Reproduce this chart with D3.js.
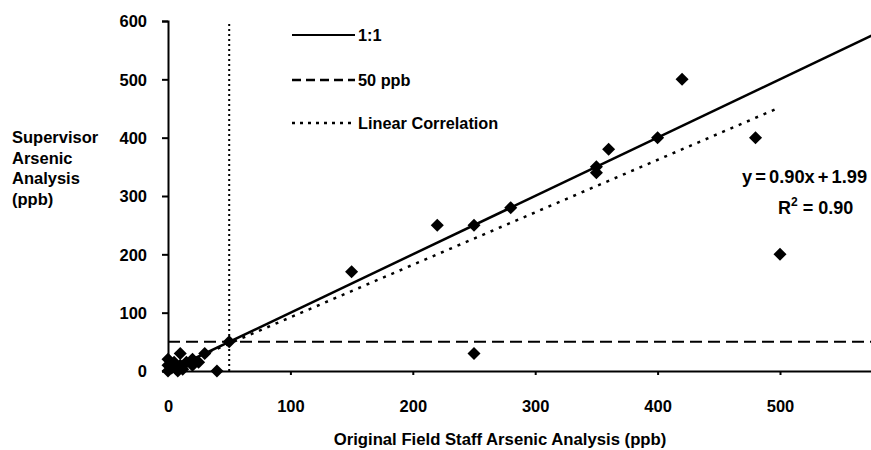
<!DOCTYPE html>
<html>
<head>
<script src="https://cdn.jsdelivr.net/npm/d3@7"></script>
<style>
  body { margin: 0; background: #fff; }
  svg text { font-family: "Liberation Sans", Arial, sans-serif; font-weight: bold; fill: #000; }
</style>
</head>
<body>
<svg id="chart"></svg>
<script>
// field staff (x) vs supervisor (y), ppb
var fieldVals = [0, 0, 0, 3, 5, 8, 10, 10, 12, 15, 20, 20, 25, 30, 40, 50,
                 150, 220, 250, 250, 280, 350, 350, 360, 400, 420, 480, 500];
var superVals = [0, 10, 20, 5, 15, 0, 10, 30, 3, 15, 10, 20, 15, 30, 0, 50,
                 170, 250, 250, 30, 280, 350, 340, 380, 400, 500, 400, 200];
var xTicks = [0, 100, 200, 300, 400, 500];
var yTicks = [0, 100, 200, 300, 400, 500, 600];
var slope = 0.90, intercept = 1.99;
var fitRange = [0, 500];
var limit = 50;
var legendLabels = ["1:1", "50 ppb", "Linear Correlation"];

var width = 871, height = 450;
var svg = d3.select("#chart").attr("width", width).attr("height", height);

var x = d3.scaleLinear().domain([0, 575]).range([168, 871.8]);
var y = d3.scaleLinear().domain([0, 600]).range([371, 21]);

// reference lines
var line = d3.line().x(function(d) { return x(d[0]); }).y(function(d) { return y(d[1]); });

svg.append("path")
   .attr("d", line([[0, 0], [575, 575]]))
   .attr("stroke", "#000").attr("stroke-width", 2.5).attr("fill", "none");

svg.append("path")
   .attr("d", line([[0, limit], [575, limit]]))
   .attr("stroke", "#000").attr("stroke-width", 2).attr("stroke-dasharray", "12,6").attr("fill", "none");

svg.append("path")
   .attr("d", line([[limit, 0], [limit, 600]]))
   .attr("stroke", "#000").attr("stroke-width", 2).attr("stroke-dasharray", "2,3").attr("fill", "none");

svg.append("path")
   .attr("d", line(fitRange.map(function(v) { return [v, slope * v + intercept]; })))
   .attr("stroke", "#000").attr("stroke-width", 2.5).attr("stroke-dasharray", "3,6").attr("fill", "none");

// axes
var xAxis = svg.append("g")
   .attr("transform", "translate(0," + y(0) + ")")
   .call(d3.axisBottom(x).tickValues(xTicks).tickSizeOuter(0).tickSize(4).tickPadding(25));
var yAxis = svg.append("g")
   .attr("transform", "translate(" + x(0) + ",0)")
   .call(d3.axisLeft(y).tickValues(yTicks).tickSizeOuter(0).tickSize(6).tickPadding(15));

[xAxis, yAxis].forEach(function(g) {
  g.select(".domain").attr("stroke-width", 2);
  g.selectAll(".tick line").attr("stroke-width", 2);
  g.selectAll(".tick text").attr("font-size", 16.5).attr("font-family", null);
});
yAxis.selectAll(".tick text").attr("dy", "0.36em");

// points
var diamond = d3.symbol().type(d3.symbolSquare).size(85);
svg.append("g").selectAll("path")
   .data(fieldVals)
   .enter()
   .append("path")
   .attr("d", diamond)
   .attr("transform", function(d, i) { return "translate(" + x(d) + "," + y(superVals[i]) + ") rotate(45)"; })
   .attr("fill", "#000");

// legend
var legendY = [35, 80, 123];
var legendDash = [null, "9,5", "3,5"];
legendLabels.forEach(function(lab, i) {
  svg.append("line")
     .attr("x1", 292).attr("x2", 355).attr("y1", legendY[i]).attr("y2", legendY[i])
     .attr("stroke", "#000").attr("stroke-width", i === 0 ? 2 : 2.5)
     .attr("stroke-dasharray", legendDash[i]);
  svg.append("text")
     .attr("x", 358).attr("y", legendY[i] + 6)
     .attr("font-size", 16.3)
     .text(lab);
});

// equation
svg.append("text").attr("x", 742).attr("y", 183).attr("font-size", 18.3).attr("word-spacing", -2)
   .text("y = " + slope.toFixed(2) + "x + " + intercept.toFixed(2));
var r2 = svg.append("text").attr("x", 778).attr("y", 214).attr("font-size", 18);
r2.append("tspan").text("R");
r2.append("tspan").attr("dy", -8).attr("font-size", 12).text("2");
r2.append("tspan").attr("dy", 8).text(" = 0.90");

// axis titles
svg.append("text").attr("x", 500).attr("y", 445).attr("text-anchor", "middle")
   .attr("font-size", 16.7).text("Original Field Staff Arsenic Analysis (ppb)");

var yTitle = ["Supervisor", "Arsenic", "Analysis", "(ppb)"];
svg.append("g").selectAll("text")
   .data(yTitle)
   .enter()
   .append("text")
   .attr("x", 12)
   .attr("y", function(d, i) { return 143 + i * 20.5; })
   .attr("font-size", 16.5)
   .text(function(d) { return d; });
</script>
</body>
</html>
